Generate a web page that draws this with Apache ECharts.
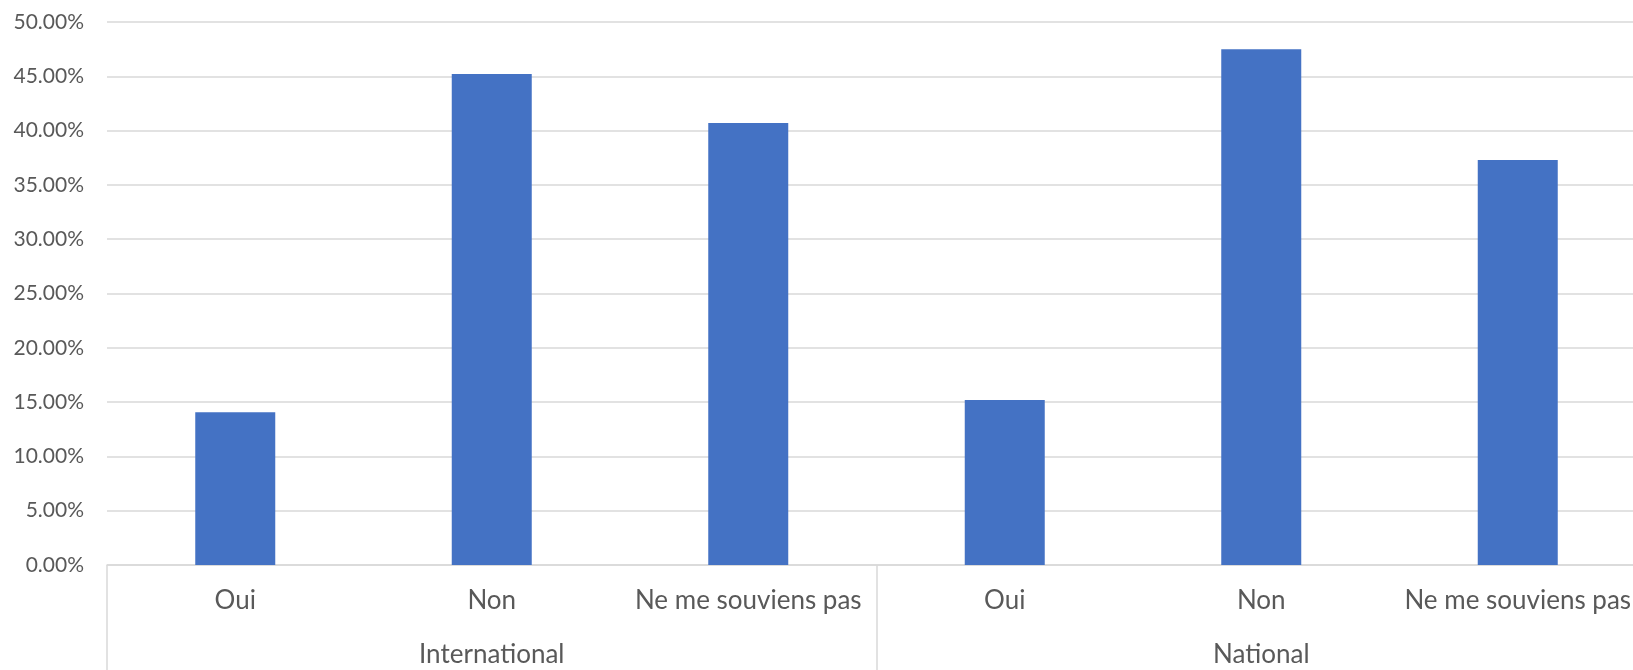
<!DOCTYPE html>
<html>
<head>
<meta charset="utf-8">
<script src="https://cdn.jsdelivr.net/npm/echarts@6/dist/echarts.min.js"></script>
<style>
html,body{margin:0;padding:0;background:#fff;overflow:hidden;width:1633px;height:670px;}
#chart{width:1647px;height:670px;}
</style>
</head>
<body>
<div id="chart"></div>
<script>
const categories = ['Oui', 'Non', 'Ne me souviens pas', 'Oui', 'Non', 'Ne me souviens pas'];
const groups = ['International', 'National'];
const values = [14.06, 45.21, 40.70, 15.19, 47.48, 37.29];
const yTicks = { min: 0, max: 50, interval: 5 };

const textColor = '#595959';
const lineColor = '#d9d9d9';
const fontFamily = 'Lato, "Open Sans", sans-serif';

const chart = echarts.init(document.getElementById('chart'));
chart.setOption({
  animation: false,
  backgroundColor: '#ffffff',
  grid: { left: 107, right: 1, top: 22, bottom: 105, containLabel: false },
  xAxis: [
    {
      type: 'category',
      data: categories,
      position: 'bottom',
      offset: 0,
      axisLine: { show: true, lineStyle: { color: lineColor, width: 1.5 } },
      axisTick: { show: false },
      axisLabel: {
        interval: 0, color: textColor, fontFamily: fontFamily, fontSize: 26,
        lineHeight: 26, margin: 23
      },
      splitLine: { show: false }
    },
    {
      type: 'category',
      data: groups,
      position: 'bottom',
      offset: 0,
      axisLine: { show: false },
      axisTick: { show: true, length: 105, lineStyle: { color: lineColor, width: 1.5 } },
      axisLabel: {
        interval: 0, color: textColor, fontFamily: fontFamily, fontSize: 26,
        lineHeight: 26, margin: 77
      },
      splitLine: { show: false }
    }
  ],
  yAxis: {
    type: 'value',
    min: yTicks.min,
    max: yTicks.max,
    interval: yTicks.interval,
    axisLine: { show: false },
    axisTick: { show: false },
    axisLabel: {
      color: textColor, fontFamily: fontFamily, fontSize: 21, margin: 23,
      formatter: v => v.toFixed(2) + '%'
    },
    splitLine: { show: true, lineStyle: { color: lineColor, width: 1.5 } }
  },
  series: [{
    type: 'bar',
    xAxisIndex: 0,
    data: values,
    barWidth: 80,
    itemStyle: { color: '#4472C4' }
  }]
});
</script>
</body>
</html>
